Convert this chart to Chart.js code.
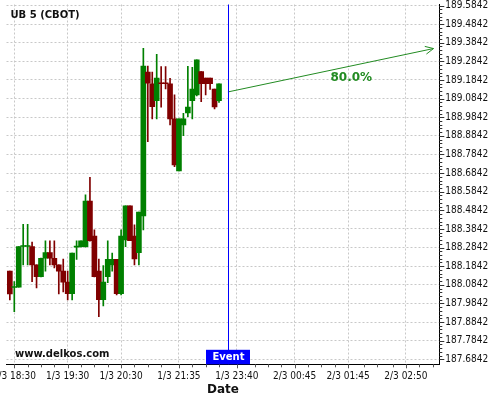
<!DOCTYPE html>
<html>
<head>
<meta charset="utf-8">
<script src="https://cdn.jsdelivr.net/npm/chart.js"></script>
<style>
  html, body { margin: 0; padding: 0; background: #fff; }
</style>
</head>
<body>
<canvas id="myChart" width="500" height="400"></canvas>
<script>
  // 5 minute bars, index 0 = 1/3 18:30
  const barIndex = [-1, 0, 1, 2, 3, 4, 5, 6, 7, 8, 9, 10, 11, 12, 13, 14, 15, 16, 17, 18, 19, 20, 21, 22, 23,
    24, 25, 26, 27, 28, 29, 30, 31, 32, 33, 34, 35, 36, 37, 38, 39, 40, 41, 42, 43, 44, 45, 46];
  const opens = [188.158, 188.070, 188.071, 188.290, 188.290, 188.289, 188.191, 188.128, 188.227, 188.257, 188.227, 188.191,
    188.158, 188.099, 188.037, 188.286, 188.289, 188.289, 188.534, 188.346, 188.158, 188.004, 188.128, 188.191,
    188.221, 188.037, 188.325, 188.508, 188.346, 188.257, 188.454, 189.227, 189.163, 189.073, 189.169, 189.169,
    189.163, 188.975, 188.696, 188.943, 189.007, 189.073, 189.104, 189.229, 189.195, 189.195, 189.136, 189.073];
  const highs = [188.158, 188.101, 188.289, 188.409, 188.409, 188.314, 188.191, 188.228, 188.320, 188.320, 188.320, 188.191,
    188.223, 188.158, 188.255, 188.320, 188.320, 188.567, 188.662, 188.379, 188.223, 188.187, 188.320, 188.254,
    188.221, 188.379, 188.508, 188.508, 188.406, 188.475, 189.354, 189.259, 189.226, 189.322, 189.256, 189.256,
    189.193, 189.104, 188.975, 189.005, 189.258, 189.252, 189.292, 189.229, 189.195, 189.195, 189.136, 189.163];
  const lows = [188.003, 187.940, 188.071, 188.191, 188.191, 188.101, 188.067, 188.126, 188.158, 188.191, 188.175, 188.035,
    188.046, 188.003, 188.003, 188.221, 188.286, 188.286, 188.318, 188.126, 187.913, 187.971, 188.096, 188.158,
    188.030, 188.030, 188.289, 188.321, 188.191, 188.191, 188.379, 188.853, 188.975, 188.975, 189.038, 189.136,
    188.943, 188.719, 188.696, 188.885, 188.987, 188.975, 189.098, 189.068, 189.104, 189.134, 189.029, 189.064];
  const closes = [188.035, 188.075, 188.289, 188.295, 188.295, 188.191, 188.128, 188.227, 188.257, 188.227, 188.191, 188.158,
    188.099, 188.037, 188.255, 188.292, 188.320, 188.534, 188.321, 188.128, 188.004, 188.099, 188.221, 188.221,
    188.037, 188.346, 188.508, 188.321, 188.223, 188.475, 189.259, 189.167, 189.041, 189.195, 189.164, 189.164,
    188.975, 188.728, 188.975, 188.975, 189.039, 189.136, 189.292, 189.164, 189.164, 189.164, 189.039, 189.163];

  const xTickIndex = [0, 12, 24, 37, 50, 63, 75, 88];
  const xTickLabels = ['1/3 18:30', '1/3 19:30', '1/3 20:30', '1/3 21:35', '1/3 23:40', '2/3 00:45', '2/3 01:45', '2/3 02:50'];
  const xMinorIndex = [3, 6, 9, 15, 18, 21, 27, 30, 33, 40, 43, 46, 54, 57, 60, 66, 69, 72, 78.5, 81.5, 85, 91, 94];
  const yTicks = [187.6842, 187.7842, 187.8842, 187.9842, 188.0842, 188.1842, 188.2842, 188.3842, 188.4842, 188.5842,
    188.6842, 188.7842, 188.8842, 188.9842, 189.0842, 189.1842, 189.2842, 189.3842, 189.4842, 189.5842];

  const eventIndex = 48;
  const forecastX = [48, 94.2];
  const forecastY = [189.120, 189.353];
  const forecastText = '80.0%';
  const titleText = 'UB 5 (CBOT)';
  const siteText = 'www.delkos.com';

  const green = '#008000';
  const red = '#800000';
  const candleColors = closes.map((c, i) => (c >= opens[i] ? green : red));
  const tickFont = '"DejaVu Sans Condensed", "DejaVu Sans", sans-serif';

  const extras = {
    id: 'extras',
    afterDraw(chart) {
      const ctx = chart.ctx;
      const area = chart.chartArea;
      const xs = chart.scales.x;
      const ys = chart.scales.y;
      ctx.save();

      // x ticks and labels
      ctx.strokeStyle = '#555';
      ctx.lineWidth = 1;
      xTickIndex.forEach((v) => {
        const px = Math.round(xs.getPixelForValue(v)) + 0.5;
        ctx.beginPath();
        ctx.moveTo(px, area.bottom);
        ctx.lineTo(px, area.bottom + 4);
        ctx.stroke();
      });
      xMinorIndex.forEach((v) => {
        const px = Math.round(xs.getPixelForValue(v)) + 0.5;
        ctx.beginPath();
        ctx.moveTo(px, area.bottom);
        ctx.lineTo(px, area.bottom + 3);
        ctx.stroke();
      });
      ctx.fillStyle = '#111';
      ctx.font = '10px ' + tickFont;
      ctx.textAlign = 'center';
      ctx.textBaseline = 'middle';
      xTickIndex.forEach((v, i) => {
        ctx.fillText(xTickLabels[i], xs.getPixelForValue(v), area.bottom + 12.5);
      });

      // y ticks
      ctx.strokeStyle = '#333';
      yTicks.forEach((v) => {
        const py = Math.round(ys.getPixelForValue(v)) + 0.5;
        ctx.beginPath();
        ctx.moveTo(area.right, py);
        ctx.lineTo(area.right + 5, py);
        ctx.stroke();
        for (let k = 1; k < 5; k++) {
          const pm = Math.round(ys.getPixelForValue(v + k * 0.02)) + 0.5;
          if (pm < area.top) continue;
          ctx.beginPath();
          ctx.moveTo(area.right, pm);
          ctx.lineTo(area.right + 3, pm);
          ctx.stroke();
        }
      });

      // event line + box
      const ex = Math.round(xs.getPixelForValue(eventIndex)) + 0.5;
      ctx.strokeStyle = '#0000ff';
      ctx.beginPath();
      ctx.moveTo(ex, area.top);
      ctx.lineTo(ex, area.bottom);
      ctx.stroke();
      ctx.fillStyle = '#0000ff';
      ctx.fillRect(ex - 22.5, area.bottom - 14.5, 44, 14.5);
      ctx.fillStyle = '#fff';
      ctx.font = 'bold 10px "DejaVu Sans"';
      ctx.fillText('Event', ex, area.bottom - 7);

      // forecast arrow head + label
      const x0 = xs.getPixelForValue(forecastX[0]);
      const y0 = ys.getPixelForValue(forecastY[0]);
      const x1 = xs.getPixelForValue(forecastX[1]);
      const y1 = ys.getPixelForValue(forecastY[1]);
      const ang = Math.atan2(y1 - y0, x1 - x0);
      ctx.strokeStyle = '#228b22';
      ctx.beginPath();
      ctx.moveTo(x1 - 9 * Math.cos(ang - 0.45), y1 - 9 * Math.sin(ang - 0.45));
      ctx.lineTo(x1, y1);
      ctx.lineTo(x1 - 9 * Math.cos(ang + 0.45), y1 - 9 * Math.sin(ang + 0.45));
      ctx.stroke();
      ctx.fillStyle = '#228b22';
      ctx.font = 'bold 12px "DejaVu Sans"';
      const t = 0.6;
      ctx.fillText(forecastText, x0 + (x1 - x0) * t, y0 + (y1 - y0) * t + 12);

      // title and site name
      ctx.fillStyle = '#111';
      ctx.textAlign = 'left';
      ctx.font = 'bold 10px "DejaVu Sans"';
      ctx.fillText(titleText, 10.5, 15);
      ctx.fillText(siteText, 15, 354);
      ctx.restore();
    },
  };

  const data = {
    datasets: [
      {
        type: 'line',
        label: 'forecast',
        data: forecastX.map((x, i) => ({ x: x, y: forecastY[i] })),
        borderColor: '#228b22',
        borderWidth: 1,
        pointRadius: 0,
        order: 0,
      },
      {
        label: 'body',
        data: barIndex.map((x, i) => ({ x: x, y: [opens[i], closes[i]] })),
        backgroundColor: candleColors,
        barThickness: 5,
        grouped: false,
        order: 1,
      },
      {
        label: 'wick',
        data: barIndex.map((x, i) => ({ x: x, y: [lows[i], highs[i]] })),
        backgroundColor: candleColors,
        barThickness: 1,
        grouped: false,
        order: 2,
      },
    ],
  };

  const config = {
    type: 'bar',
    data: data,
    plugins: [extras],
    options: {
      responsive: false,
      animation: false,
      layout: { padding: { left: 6.5, top: 4.5, right: 0, bottom: 0 } },
      plugins: {
        legend: { display: false },
        tooltip: { enabled: false },
      },
      scales: {
        x: {
          type: 'linear',
          min: -1.75,
          max: 95.5,
          offset: false,
          afterBuildTicks: (s) => {
            s.ticks = xTickIndex.map((v) => ({ value: v }));
          },
          afterFit: (s) => {
            s.height = 35.7;
            s.paddingLeft = 0;
            s.paddingRight = 0;
          },
          ticks: { display: false },
          grid: { offset: false, color: '#c8c8c8', drawTicks: false },
          border: { display: true, color: '#000', width: 1, dash: [2, 2] },
          title: {
            display: true,
            text: 'Date',
            color: '#111',
            font: { family: 'DejaVu Sans', size: 12, weight: 'bold' },
            padding: { top: 0, bottom: 3 },
          },
        },
        y: {
          position: 'right',
          min: 187.6573,
          max: 189.5896,
          afterBuildTicks: (s) => {
            s.ticks = yTicks.map((v) => ({ value: v }));
          },
          afterFit: (s) => {
            s.width = 60.7;
            s.paddingTop = 0;
            s.paddingBottom = 0;
          },
          ticks: {
            autoSkip: false,
            padding: 6,
            color: '#111',
            font: { family: tickFont, size: 10 },
            callback: (v) => Number(v).toFixed(4),
          },
          grid: { color: '#c8c8c8', drawTicks: false },
          border: { display: true, color: '#000', width: 1, dash: [2, 2] },
        },
      },
    },
  };

  var myChart = new Chart(document.getElementById('myChart'), config);
</script>
</body>
</html>
